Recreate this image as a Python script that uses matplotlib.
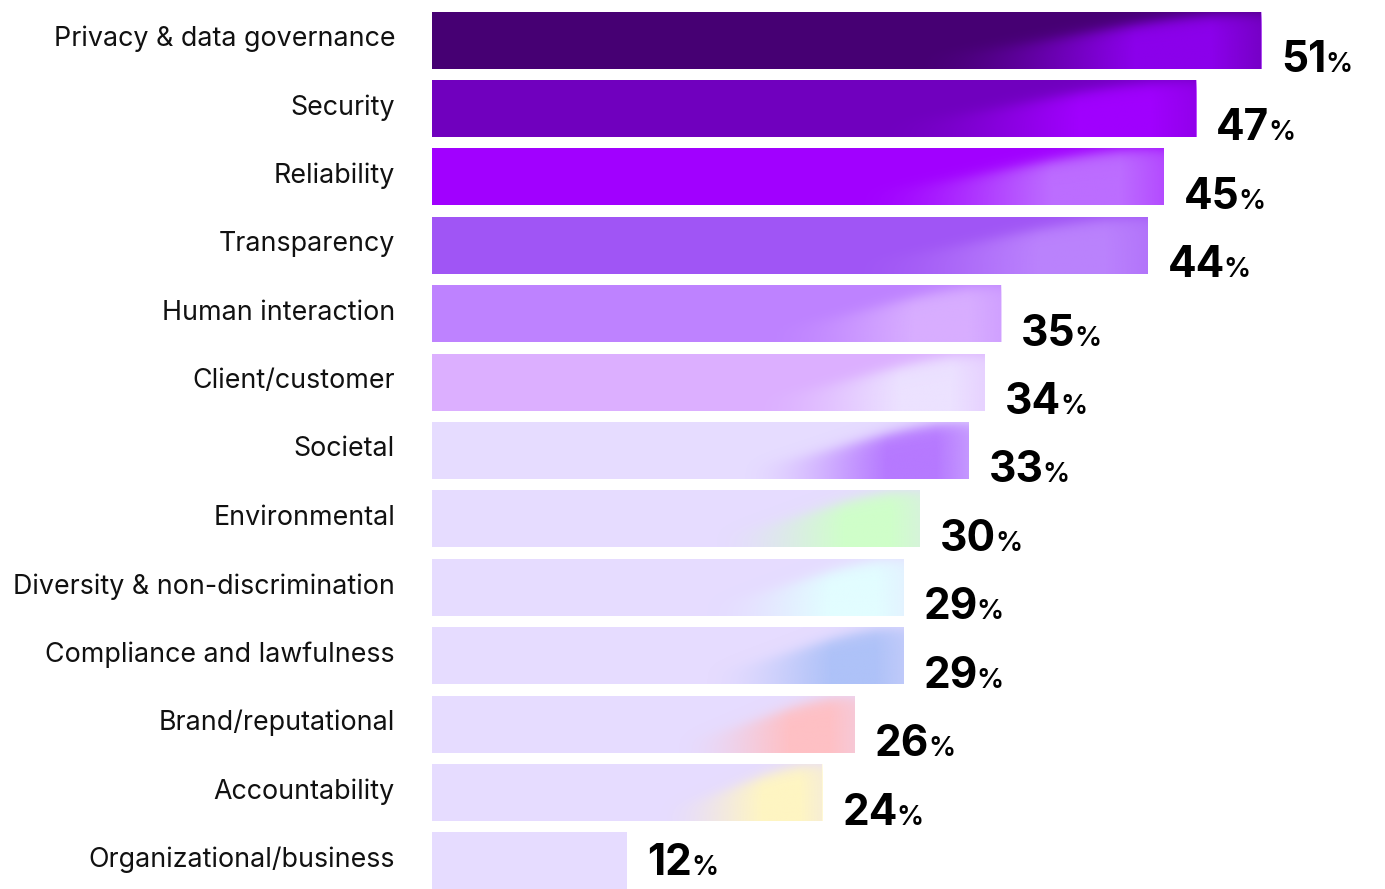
import matplotlib.pyplot as plt
import matplotlib.transforms as mtransforms
from matplotlib.colors import to_rgb
import numpy as np

plt.rcParams['font.family'] = ['Inter', 'DejaVu Sans']

categories = ["Privacy & data governance", "Security", "Reliability", "Transparency",
              "Human interaction", "Client/customer", "Societal", "Environmental",
              "Diversity & non-discrimination", "Compliance and lawfulness",
              "Brand/reputational", "Accountability", "Organizational/business"]
values = [51, 47, 45, 44, 35, 34, 33, 30, 29, 29, 26, 24, 12]

base_colors = ["#460073", "#7000BE", "#A100FF", "#A055F5", "#BE82FF", "#DCAFFF",
               "#E6DCFF", "#E6DCFF", "#E6DCFF", "#E6DCFF", "#E6DCFF", "#E6DCFF", "#E6DCFF"]
glow_colors = ["#8C00EC", "#A100FF", "#C692FF", "#C28EFF", "#DDB6FF", "#EEE8FF",
               "#B679FF", "#CFFFC9", "#E2FEFF", "#AEC2F8", "#FFC0C4", "#FFF6C2", None]
glow_strength = [1.0, 1.0, 0.75, 0.8, 0.85, 0.9, 1.0, 1.0, 1.0, 1.0, 1.0, 1.0, 0.0]


def glow_image(color, strength, n_u=400, n_v=80, u0=0.57):
    # soft swoosh that grows towards the right end of a bar
    u = np.linspace(0, 1, n_u)[None, :]
    v = np.linspace(0, 1, n_v)[:, None]
    ramp = np.clip((u - u0) / (1 - u0), 0, 1)
    ramp = ramp * ramp * (3 - 2 * ramp)
    upper = 0.75 - 0.75 * ramp
    wedge = 1 / (1 + np.exp(-(v - upper) / 0.07))
    edge = 0.7 + 0.3 * np.clip((1 - u) / 0.06, 0, 1)
    alpha = np.clip(ramp * 1.4, 0, 1) * wedge * edge * strength
    img = np.zeros((n_v, n_u, 4))
    img[..., :3] = to_rgb(color)
    img[..., 3] = alpha
    return img


fig = plt.figure(figsize=(13.85, 8.89), dpi=100)
ax = fig.add_axes([432 / 1385, 0, 1 - 432 / 1385, 1])

y = np.arange(len(categories))
h = 0.833
bars = ax.barh(y, values, height=h, color=base_colors, edgecolor='none')

for i, (bar, v) in enumerate(zip(bars, values)):
    if glow_colors[i] is None:
        continue
    im = ax.imshow(glow_image(glow_colors[i], glow_strength[i]),
                   extent=(0, v, i + h / 2, i - h / 2),
                   origin='upper', aspect='auto', interpolation='bilinear', zorder=2)
    im.set_clip_path(bar)

ax.set_xlim(0, 58.6)
ax.set_ylim(12.41, -0.585)

ax.set_yticks(y)
ax.set_yticklabels(categories, fontsize=19.3, color='#111111')
ax.tick_params(axis='y', length=0, pad=26.6)
# nudge the category labels up a little
for lab in ax.get_yticklabels():
    lab.set_transform(lab.get_transform() +
                      mtransforms.ScaledTranslation(0, 4 / 100, fig.dpi_scale_trans))
ax.set_xticks([])
for s in ax.spines.values():
    s.set_visible(False)

# value labels: big bold number followed by a small percent sign
fig.canvas.draw()
num_texts = []
offsets = []
for i, v in enumerate(values):
    cy = ax.transData.transform((v, i))[1]
    dy = -32
    if cy + dy < 14:
        dy = 14 - cy
    offsets.append(dy)
    tr = mtransforms.offset_copy(ax.transData, fig=fig, x=20, y=dy, units='dots')
    t = ax.text(v, i, str(v), transform=tr, fontsize=30.5, fontweight='bold',
                va='baseline', ha='left', color='black', zorder=5)
    num_texts.append(t)

fig.canvas.draw()
for i, (t, v) in enumerate(zip(num_texts, values)):
    w = t.get_window_extent().width
    tr = mtransforms.offset_copy(ax.transData, fig=fig, x=20 + w - 1, y=offsets[i], units='dots')
    ax.text(v, i, "%", transform=tr, fontsize=19.5, fontweight='semibold',
            va='baseline', ha='left', color='black', zorder=5)

fig.savefig("out.png", dpi=100, facecolor='white')
